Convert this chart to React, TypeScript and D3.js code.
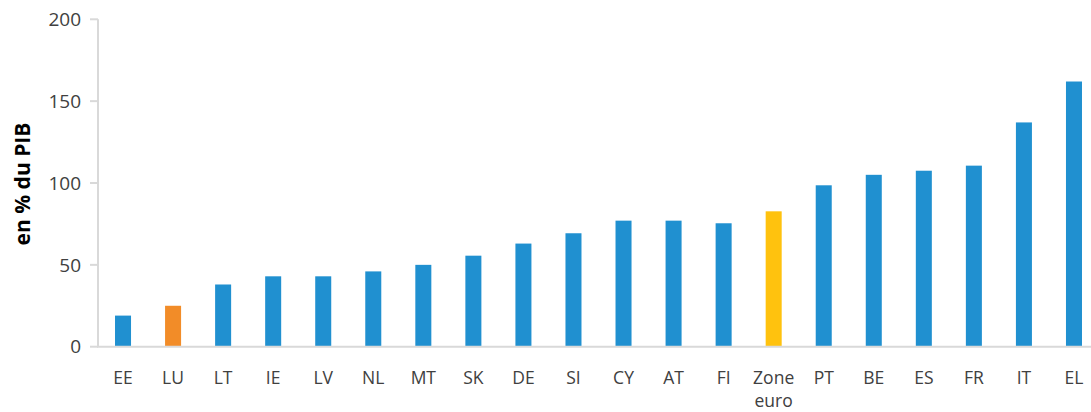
import React from "react";
import * as d3 from "d3";

const categories = ["EE","LU","LT","IE","LV","NL","MT","SK","DE","SI","CY","AT","FI","Zone euro","PT","BE","ES","FR","IT","EL"];
const values = [19,25,38,43,43,46,50,55.6,63,69.3,77,77,75.4,82.7,98.6,105,107.5,110.6,137,162];
const yTicks = [0,50,100,150,200];
const highlight: Record<string,string> = { LU: "#F28C28", "Zone euro": "#FFC20E" };

const W = 1091, H = 412;
const left = 98, right = 1099, top = 19.3, bottom = 346.7;

export default function App() {
  const x = d3.scaleBand<string>().domain(categories).range([left, right]).paddingInner(0.68).paddingOuter(0.34);
  const y = d3.scaleLinear().domain([0, 200]).range([bottom, top]);
  const font = "'Open Sans', sans-serif";
  return (
    <svg width={W} height={H} style={{ position: "absolute", left: 0, top: 0, background: "#fff" }}>
      {categories.map((c, i) => (
        <rect key={c} x={x(c)} y={y(values[i])} width={x.bandwidth()} height={y(0) - y(values[i])}
          fill={highlight[c] || "#2090D0"} />
      ))}
      <line x1={left} x2={left} y1={top} y2={bottom} stroke="#d9d9d9" strokeWidth={2} />
      <line x1={left - 1} x2={W} y1={bottom} y2={bottom} stroke="#d9d9d9" strokeWidth={2} />
      {yTicks.map(t => (
        <g key={t}>
          <line x1={left - 8} x2={left} y1={y(t)} y2={y(t)} stroke="#d9d9d9" strokeWidth={2} />
          <text x={left - 17} y={y(t)} dy="0.35em" textAnchor="end" fontFamily={font} fontSize={19} fill="#404040">{t}</text>
        </g>
      ))}
      {categories.map(c => {
        const cx = (x(c) as number) + x.bandwidth() / 2;
        const parts = c.split(" ");
        return (
          <text key={c} x={cx} y={383.5} textAnchor="middle" fontFamily={font} fontSize={17.5} fill="#404040">
            {parts.map((p, j) => <tspan key={j} x={cx} dy={j === 0 ? 0 : 23}>{p}</tspan>)}
          </text>
        );
      })}
      <text transform={`translate(30,184) rotate(-90)`} textAnchor="middle" fontFamily={font} fontWeight="bold" fontSize={21} fill="#000">en % du PIB</text>
    </svg>
  );
}
